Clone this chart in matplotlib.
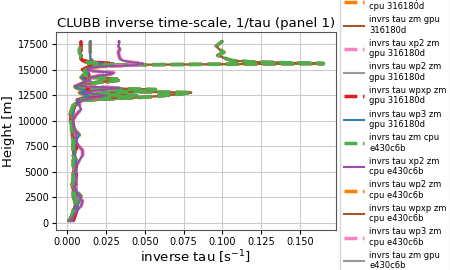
import textwrap
import numpy as np
import matplotlib
matplotlib.use("Agg")
import matplotlib.pyplot as plt

# height levels [m]
z = [150, 600, 1100, 1600, 2100, 2600, 3100, 3600, 4100, 4600, 5100, 5600,
     6100, 6600, 7100, 7600, 8100, 8600, 9100, 9600, 10100, 10600, 11100,
     11500, 11800, 12000, 12150, 12300, 12450, 12600, 12750, 12900, 13050,
     13200, 13350, 13500, 13650, 13800, 13950, 14100, 14250, 14400, 14550,
     14700, 14850, 15000, 15150, 15300, 15450, 15600, 15750, 15900, 16100,
     16400, 16700, 17000, 17300, 17550, 17800]

# inverse tau profiles [1/s]
tau_zm = [0.002, 0.003, 0.004, 0.005, 0.005, 0.004, 0.004, 0.003, 0.004, 0.004,
          0.004, 0.005, 0.005, 0.004, 0.004, 0.004, 0.004, 0.003, 0.003, 0.003,
          0.003, 0.003, 0.004, 0.005, 0.007,
          0.010, 0.030, 0.050, 0.062, 0.072, 0.080, 0.014, 0.040, 0.012, 0.007,
          0.009, 0.012, 0.025, 0.033, 0.030, 0.014, 0.010, 0.011, 0.012, 0.013,
          0.014, 0.015, 0.016, 0.014, 0.165, 0.120, 0.106, 0.102, 0.097, 0.101,
          0.098, 0.096, 0.098, 0.100]
tau_xp2 = [0.004, 0.005, 0.006, 0.007, 0.006, 0.005, 0.006, 0.006, 0.005, 0.006,
           0.006, 0.006, 0.005, 0.005, 0.006, 0.006, 0.005, 0.005, 0.004, 0.004,
           0.003, 0.003, 0.004, 0.005, 0.008,
           0.006, 0.010, 0.015, 0.020, 0.012, 0.010, 0.012, 0.014, 0.010, 0.006,
           0.008, 0.010, 0.012, 0.014, 0.012, 0.010, 0.012, 0.014, 0.013, 0.012,
           0.010, 0.012, 0.015, 0.025, 0.030, 0.015, 0.010, 0.009, 0.009, 0.009,
           0.009, 0.009, 0.009, 0.009]
tau_wp2 = [0.003, 0.004, 0.005, 0.006, 0.008, 0.009, 0.006, 0.004, 0.005, 0.005,
           0.006, 0.005, 0.006, 0.005, 0.005, 0.005, 0.006, 0.008, 0.005, 0.004,
           0.004, 0.004, 0.004, 0.005, 0.008,
           0.007, 0.009, 0.012, 0.014, 0.010, 0.008, 0.012, 0.010, 0.006, 0.005,
           0.008, 0.010, 0.011, 0.012, 0.010, 0.009, 0.011, 0.013, 0.014, 0.013,
           0.012, 0.014, 0.020, 0.028, 0.022, 0.017, 0.016, 0.015, 0.015, 0.015,
           0.015, 0.015, 0.015, 0.015]
tau_wpxp = [0.001, 0.003, 0.004, 0.005, 0.006, 0.005, 0.005, 0.005, 0.004, 0.005,
            0.005, 0.004, 0.004, 0.005, 0.004, 0.004, 0.005, 0.004, 0.003, 0.003,
            0.002, 0.002, 0.003, 0.004, 0.007,
            0.008, 0.020, 0.035, 0.045, 0.015, 0.030, 0.050, 0.057, 0.015, 0.008,
            0.010, 0.014, 0.022, 0.028, 0.032, 0.016, 0.012, 0.011, 0.012, 0.011,
            0.012, 0.014, 0.018, 0.030, 0.020, 0.012, 0.010, 0.009, 0.009, 0.008,
            0.008, 0.009, 0.009, 0.009]
tau_wp3 = [0.002, 0.004, 0.006, 0.009, 0.010, 0.007, 0.006, 0.005, 0.006, 0.006,
           0.005, 0.006, 0.008, 0.010, 0.010, 0.007, 0.006, 0.006, 0.005, 0.004,
           0.004, 0.006, 0.009, 0.008, 0.008,
           0.010, 0.014, 0.020, 0.025, 0.018, 0.012, 0.015, 0.025, 0.034, 0.012,
           0.007, 0.010, 0.012, 0.015, 0.014, 0.016, 0.020, 0.028, 0.030, 0.018,
           0.013, 0.014, 0.020, 0.045, 0.049, 0.040, 0.036, 0.034, 0.0335, 0.033,
           0.034, 0.033, 0.0335, 0.0335]

var_names = ["invrs tau zm", "invrs tau xp2 zm", "invrs tau wp2 zm",
             "invrs tau wpxp zm", "invrs tau wp3 zm"]
var_data = [tau_zm, tau_xp2, tau_wp2, tau_wpxp, tau_wp3]
runs = ["cpu 316180d", "gpu 316180d", "cpu e430c6b", "gpu e430c6b"]

colors = ["#e41a1c", "#377eb8", "#4daf4a", "#984ea3",
          "#ff7f00", "#a65628", "#f781bf", "#999999"]

fig = plt.figure(figsize=(4.5, 2.7), dpi=100)
ax = fig.add_subplot(111)
fig.subplots_adjust(left=0.124, right=0.747, top=0.881, bottom=0.148)

i = 0
for run in runs:
    for name, vals in zip(var_names, var_data):
        lab = textwrap.fill(name + " " + run, 17)
        # zm gpu e430c6b sits underneath the cpu run
        zo = 1.5 if i == 15 else 2
        if i % 2 == 0:
            ax.plot(vals, z, color=colors[i % 8], ls="--", lw=2.5, label=lab, zorder=zo)
        else:
            ax.plot(vals, z, color=colors[i % 8], ls="-", lw=1.5, label=lab, zorder=zo)
        i += 1

ax.set_title("CLUBB inverse time-scale, 1/tau (panel 1)", fontsize=9.5, pad=4)
ax.set_xlabel("inverse tau [s$^{-1}$]", fontsize=9.5, labelpad=1)
ax.set_ylabel("Height [m]", fontsize=9.5, labelpad=2)
ax.tick_params(labelsize=7, length=3, pad=2)
ax.grid(True, color="#cccccc", lw=0.8)
ax.set_axisbelow(True)
for s in ax.spines.values():
    s.set_color("#555555")

ax.legend(loc="center left", bbox_to_anchor=(1.0, 0.5), fontsize=6,
          handlelength=2.4, handletextpad=0.7, labelspacing=0.5,
          frameon=True, fancybox=False, edgecolor="#cccccc")

fig.savefig("out.png", dpi=100)
